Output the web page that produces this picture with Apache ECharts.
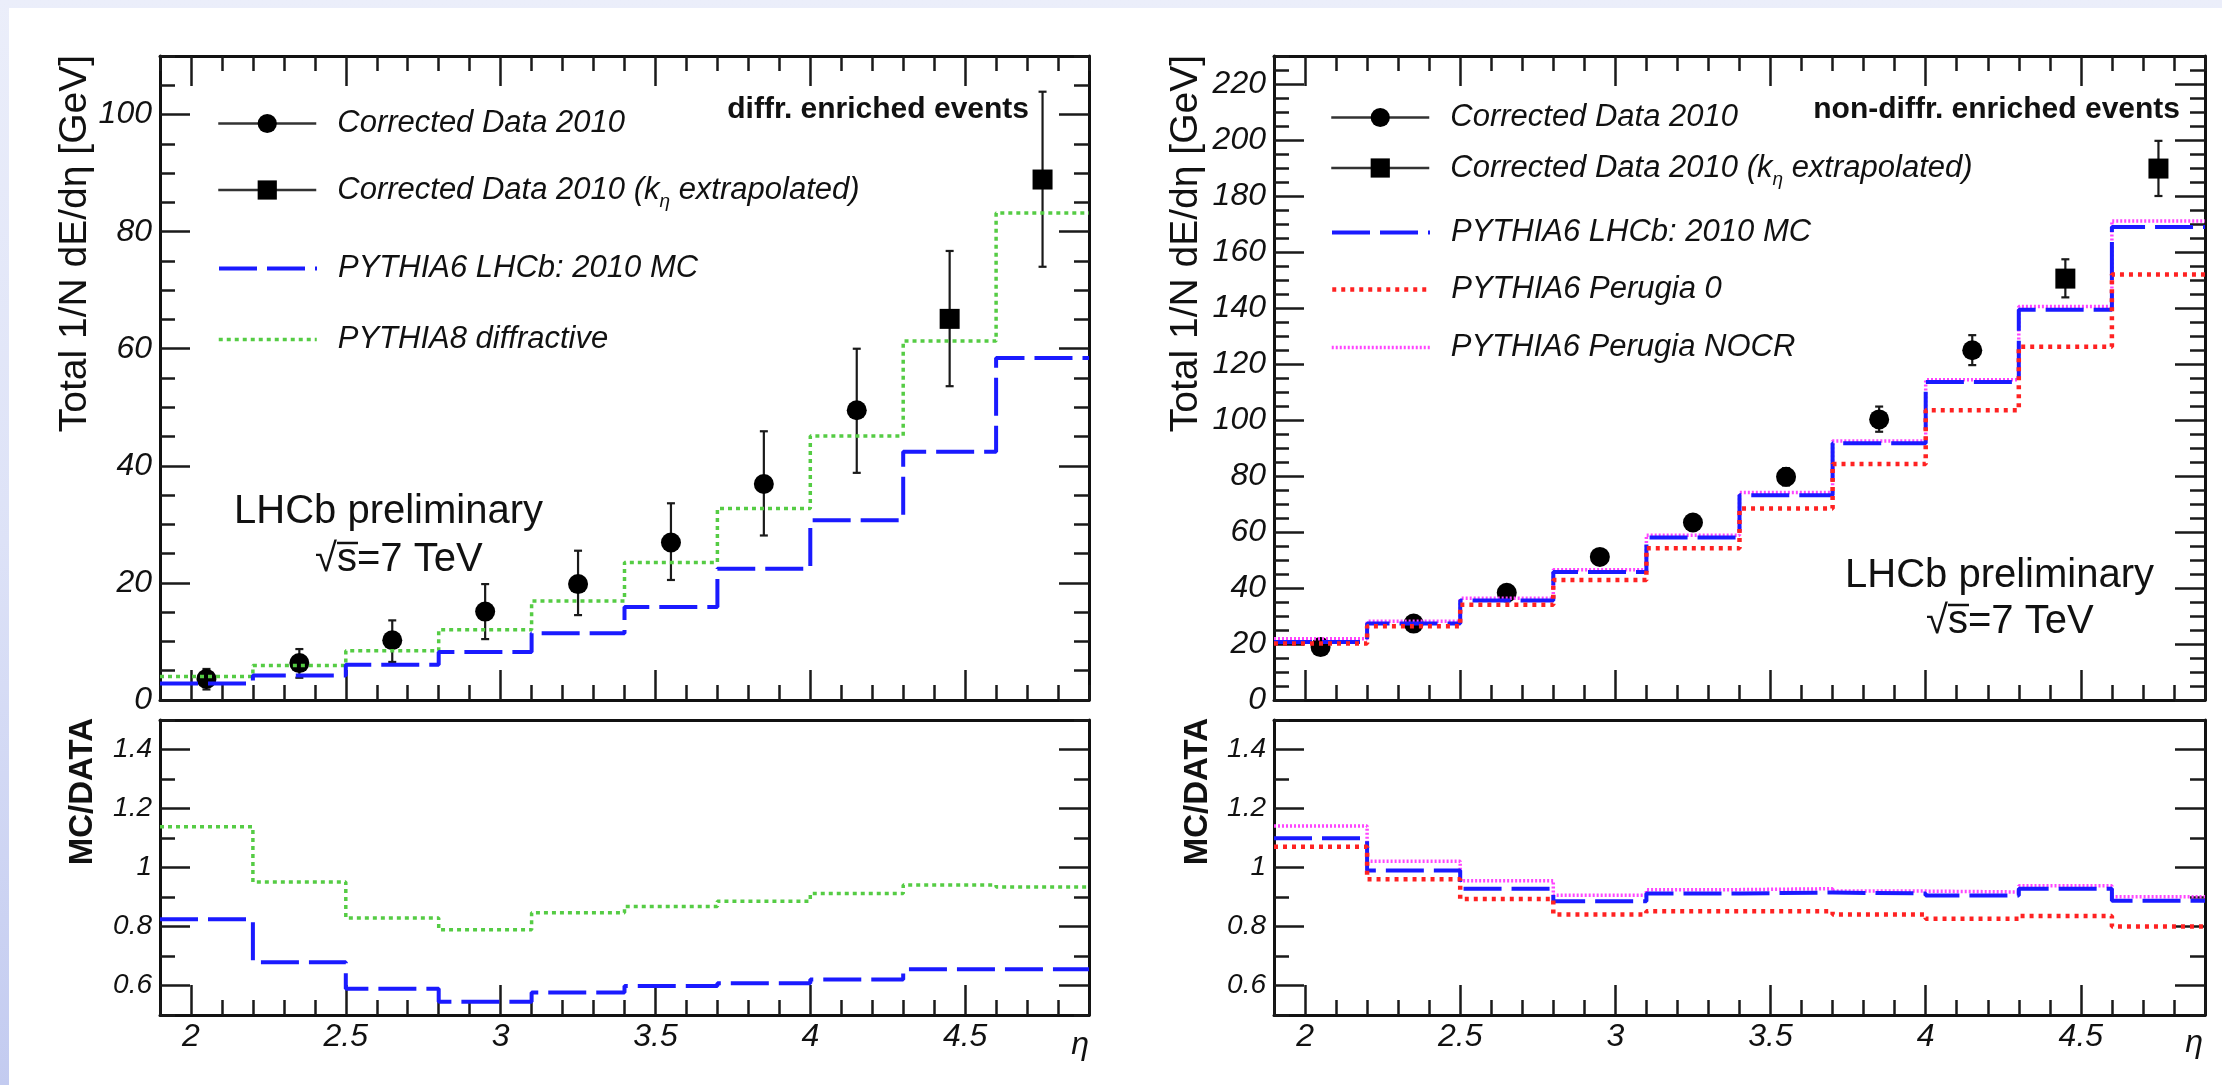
<!DOCTYPE html>
<html><head><meta charset="utf-8">
<script src="https://cdn.jsdelivr.net/npm/echarts@6/dist/echarts.min.js"></script>
<style>
html,body{margin:0;padding:0;width:2222px;height:1085px;overflow:hidden;}
body{background:linear-gradient(180deg,#ebeefa 0%,#dde2f7 50%,#c3cbf0 100%);}
#paper{position:absolute;left:9px;top:8px;right:0;bottom:0;background:#fff;}
#chart{position:absolute;left:0;top:0;width:2222px;height:1085px;}
</style></head><body><div id="paper"></div><div id="chart"></div>
<script>
const FONT = "'Liberation Sans', Arial, Helvetica, sans-serif";

// ---------------- data ----------------
const binEdges = [1.9, 2.2, 2.5, 2.8, 3.1, 3.4, 3.7, 4.0, 4.3, 4.6, 4.9];
const etaCentres = [2.05, 2.35, 2.65, 2.95, 3.25, 3.55, 3.85, 4.15, 4.45, 4.75];
const extrapolated = [false, false, false, false, false, false, false, false, true, true];

// left: diffractive enriched events
const diffData     = [3.6, 6.3, 10.2, 15.1, 19.8, 26.9, 36.9, 49.5, 65.1, 88.9];
const diffErrLow   = [1.8, 3.8, 6.5, 10.4, 14.5, 20.5, 28.1, 38.8, 53.6, 74.0];
const diffErrHigh  = [5.3, 8.7, 13.6, 19.8, 25.5, 33.6, 45.9, 60.0, 76.7, 103.9];
const diffPythia6  = [2.8, 4.2, 6.0, 8.2, 11.4, 15.9, 22.4, 30.7, 42.4, 58.4];
const diffPythia8  = [4.0, 5.9, 8.4, 12.0, 16.9, 23.5, 32.7, 45.1, 61.3, 83.2];
const diffRatioPythia6 = [0.825, 0.679, 0.589, 0.545, 0.576, 0.598, 0.608, 0.620, 0.655, 0.655];
const diffRatioPythia8 = [1.138, 0.951, 0.829, 0.789, 0.847, 0.868, 0.886, 0.912, 0.941, 0.934];

// right: non-diffractive enriched events
const ndData      = [18.9, 27.3, 38.3, 51.1, 63.4, 79.7, 100.2, 124.9, 150.5, 189.8];
const ndErrLow    = [18.1, 26.1, 36.7, 49.0, 60.8, 76.6, 95.8, 119.6, 143.8, 180.0];
const ndErrHigh   = [19.7, 28.5, 39.9, 53.2, 66.0, 82.8, 104.8, 130.3, 157.4, 199.7];
const ndPythia6   = [20.7, 27.3, 35.5, 45.7, 58.0, 73.1, 91.7, 113.6, 139.4, 168.9];
const ndPerugia0  = [20.2, 26.3, 34.0, 42.9, 54.2, 68.4, 84.3, 103.5, 126.2, 152.0];
const ndNOCR      = [21.9, 28.1, 36.3, 46.5, 58.8, 74.1, 92.5, 114.4, 140.5, 171.1];
const ndRatioPythia6  = [1.099, 0.990, 0.928, 0.886, 0.912, 0.915, 0.912, 0.905, 0.928, 0.887];
const ndRatioPerugia0 = [1.070, 0.960, 0.893, 0.841, 0.852, 0.852, 0.841, 0.826, 0.836, 0.800];
const ndRatioNOCR     = [1.141, 1.021, 0.955, 0.906, 0.925, 0.928, 0.920, 0.917, 0.938, 0.901];

// ticks
const etaTicks   = [2, 2.5, 3, 3.5, 4, 4.5];
const diffTicks  = [0, 20, 40, 60, 80, 100];
const ndTicks    = [0, 20, 40, 60, 80, 100, 120, 140, 160, 180, 200, 220];
const ratioTicks = [0.6, 0.8, 1, 1.2, 1.4];

const NAME_DATA = 'Corrected Data 2010';
const NAME_EXTRAP = 'Corrected Data 2010 (kη extrapolated)';
const NAME_P6 = 'PYTHIA6 LHCb: 2010 MC';
const NAME_P8 = 'PYTHIA8 diffractive';
const NAME_PER0 = 'PYTHIA6 Perugia 0';
const NAME_NOCR = 'PYTHIA6 Perugia NOCR';

function steps(a, b, step) {
  const out = [];
  const n = Math.round((b - a) / step);
  for (let i = 0; i <= n; i++) out.push(Math.round((a + i * step) * 1000) / 1000);
  return out;
}
const etaMinor = steps(1.9, 4.9, 0.1);
const diffMinor = steps(0, 110, 5);
const ndMinor = steps(0, 230, 5);
const ratioMinor = steps(0.5, 1.5, 0.1);

// ---------------- style ----------------
const BLUE = '#1a1aff', GREEN = '#55cc44', RED = '#ff2222', MAGENTA = '#ff44ff';
const DASH_BLUE = [38, 10], DOT_GREEN = [4, 4], DOT_RED = [4, 5], DOT_MAG = [2, 2];
const tickStyle = {color: '#1a1a1a', width: 2.5};
const frameStyle = {color: '#111', width: 3};

const grids = [
  {left: 160, top: 56, width: 929, height: 644},
  {left: 160, top: 720, width: 929, height: 295},
  {left: 1274, top: 56, width: 931, height: 644},
  {left: 1274, top: 720, width: 931, height: 295}
].map(g => Object.assign({outerBoundsMode: 'none', containLabel: false}, g));

function xAxesFor(g, withLabels, topTicks) {
  const c = {type: 'value', gridIndex: g, min: binEdges[0], max: binEdges[binEdges.length - 1],
    splitLine: {show: false}, minorTick: {show: false}};
  return [
    Object.assign({}, c, {position: 'bottom', axisLine: {show: true, onZero: false, lineStyle: frameStyle},
      axisTick: {show: true, inside: true, length: 30, lineStyle: tickStyle, customValues: etaTicks},
      axisLabel: {show: withLabels, customValues: etaTicks, margin: 6, fontFamily: FONT, fontStyle: 'italic', fontSize: 32, color: '#111'}}),
    Object.assign({}, c, {position: 'bottom', axisLine: {show: false, onZero: false},
      axisTick: {show: true, inside: true, length: 15, lineStyle: tickStyle, customValues: etaMinor},
      axisLabel: {show: false}}),
    Object.assign({}, c, {position: 'top', axisLine: {show: true, onZero: false, lineStyle: frameStyle},
      axisTick: {show: topTicks, inside: true, length: 30, lineStyle: tickStyle, customValues: etaTicks},
      axisLabel: {show: false}}),
    Object.assign({}, c, {position: 'top', axisLine: {show: false, onZero: false},
      axisTick: {show: topTicks, inside: true, length: 15, lineStyle: tickStyle, customValues: etaMinor},
      axisLabel: {show: false}})
  ];
}
function yAxesFor(g, min, max, majors, minors, labelSize) {
  const c = {type: 'value', gridIndex: g, min: min, max: max, splitLine: {show: false}, minorTick: {show: false}};
  return [
    Object.assign({}, c, {position: 'left', axisLine: {show: true, onZero: false, lineStyle: frameStyle},
      axisTick: {show: true, inside: true, length: 30, lineStyle: tickStyle, customValues: majors},
      axisLabel: {show: true, customValues: majors, margin: 8, fontFamily: FONT, fontStyle: 'italic', fontSize: labelSize, color: '#111'}}),
    Object.assign({}, c, {position: 'left', axisLine: {show: false, onZero: false},
      axisTick: {show: true, inside: true, length: 15, lineStyle: tickStyle, customValues: minors},
      axisLabel: {show: false}}),
    Object.assign({}, c, {position: 'right', axisLine: {show: true, onZero: false, lineStyle: frameStyle},
      axisTick: {show: true, inside: true, length: 30, lineStyle: tickStyle, customValues: majors},
      axisLabel: {show: false}}),
    Object.assign({}, c, {position: 'right', axisLine: {show: false, onZero: false},
      axisTick: {show: true, inside: true, length: 15, lineStyle: tickStyle, customValues: minors},
      axisLabel: {show: false}})
  ];
}

const xAxis = [].concat(xAxesFor(0, false, true), xAxesFor(1, true, false), xAxesFor(2, false, true), xAxesFor(3, true, false));
const yAxis = [].concat(
  yAxesFor(0, 0, 110, diffTicks, diffMinor, 32),
  yAxesFor(1, 0.5, 1.5, ratioTicks, ratioMinor, 28),
  yAxesFor(2, 0, 230, ndTicks, ndMinor, 32),
  yAxesFor(3, 0.5, 1.5, ratioTicks, ratioMinor, 28));

// ---------------- series ----------------
function histData(values) {
  return binEdges.map((e, i) => [e, values[Math.min(i, values.length - 1)]]);
}
function stepSeries(name, g, values, color, width, dash, z) {
  return {type: 'line', name: name, xAxisIndex: 4 * g, yAxisIndex: 4 * g, data: histData(values),
    step: 'end', symbol: 'none', showSymbol: false, silent: true, z: z,
    lineStyle: {color: color, width: width, type: dash, cap: 'butt'}, itemStyle: {color: color}};
}
function pointSeries(name, g, values, wantExtrap, symbol) {
  const pts = [];
  etaCentres.forEach((x, i) => { if (extrapolated[i] === wantExtrap) pts.push([x, values[i]]); });
  return {type: 'line', name: name, xAxisIndex: 4 * g, yAxisIndex: 4 * g, data: pts,
    symbol: symbol, symbolSize: 20, showSymbol: true, showAllSymbol: true, silent: true, z: 3,
    itemStyle: {color: '#000'}, lineStyle: {width: 0, opacity: 0}};
}
function errorSeries(g, lo, hi) {
  return {type: 'custom', xAxisIndex: 4 * g, yAxisIndex: 4 * g, silent: true, z: 2,
    data: etaCentres.map((x, i) => [x, lo[i], hi[i]]),
    encode: {x: 0, y: [1, 2]},
    renderItem: function (params, api) {
      const x = api.value(0);
      const a = api.coord([x, api.value(1)]);
      const b = api.coord([x, api.value(2)]);
      const st = {stroke: '#1a1a1a', lineWidth: 2.2};
      const cap = 4;
      return {type: 'group', children: [
        {type: 'line', shape: {x1: a[0], y1: a[1], x2: b[0], y2: b[1]}, style: st},
        {type: 'line', shape: {x1: a[0] - cap, y1: a[1], x2: a[0] + cap, y2: a[1]}, style: st},
        {type: 'line', shape: {x1: b[0] - cap, y1: b[1], x2: b[0] + cap, y2: b[1]}, style: st}
      ]};
    }};
}

const series = [
  // left top
  errorSeries(0, diffErrLow, diffErrHigh),
  pointSeries(NAME_DATA, 0, diffData, false, 'circle'),
  pointSeries(NAME_EXTRAP, 0, diffData, true, 'rect'),
  stepSeries(NAME_P8, 0, diffPythia8, GREEN, 3.5, DOT_GREEN, 4),
  stepSeries(NAME_P6, 0, diffPythia6, BLUE, 4, DASH_BLUE, 5),
  // left bottom
  stepSeries(NAME_P8, 1, diffRatioPythia8, GREEN, 3.5, DOT_GREEN, 4),
  stepSeries(NAME_P6, 1, diffRatioPythia6, BLUE, 4, DASH_BLUE, 5),
  // right top
  errorSeries(2, ndErrLow, ndErrHigh),
  pointSeries(NAME_DATA, 2, ndData, false, 'circle'),
  pointSeries(NAME_EXTRAP, 2, ndData, true, 'rect'),
  stepSeries(NAME_NOCR, 2, ndNOCR, MAGENTA, 3.5, DOT_MAG, 4),
  stepSeries(NAME_P6, 2, ndPythia6, BLUE, 4, DASH_BLUE, 5),
  stepSeries(NAME_PER0, 2, ndPerugia0, RED, 4.5, DOT_RED, 6),
  // right bottom
  stepSeries(NAME_NOCR, 3, ndRatioNOCR, MAGENTA, 3.5, DOT_MAG, 4),
  stepSeries(NAME_P6, 3, ndRatioPythia6, BLUE, 4, DASH_BLUE, 5),
  stepSeries(NAME_PER0, 3, ndRatioPerugia0, RED, 4.5, DOT_RED, 6)
];

// ---------------- legends ----------------
const richStyles = {
  g: {width: 16, lineHeight: 30},
  t: {fontFamily: FONT, fontStyle: 'italic', fontSize: 31, color: '#111', lineHeight: 30, verticalAlign: 'middle'},
  s: {fontFamily: FONT, fontStyle: 'italic', fontSize: 19, color: '#111', padding: [24, 0, 0, 0], verticalAlign: 'bottom'}
};
function legendFormatter(name) {
  if (name === NAME_EXTRAP) return '{g| }{t|Corrected Data 2010 (k}{s|η}{t| extrapolated)}';
  return '{g| }{t|' + name + '}';
}
const iconStyles = {};
iconStyles[NAME_DATA] = {lineStyle: {color: '#333', width: 2.5, opacity: 1, type: 'solid'}, itemStyle: {color: '#000', opacity: 1}};
iconStyles[NAME_EXTRAP] = {lineStyle: {color: '#333', width: 2.5, opacity: 1, type: 'solid'}, itemStyle: {color: '#000', opacity: 1}};
iconStyles[NAME_P6] = {lineStyle: {color: BLUE, width: 4, opacity: 1, type: DASH_BLUE}, itemStyle: {opacity: 0}};
iconStyles[NAME_P8] = {lineStyle: {color: GREEN, width: 3.5, opacity: 1, type: DOT_GREEN}, itemStyle: {opacity: 0}};
iconStyles[NAME_PER0] = {lineStyle: {color: RED, width: 4.5, opacity: 1, type: DOT_RED}, itemStyle: {opacity: 0}};
iconStyles[NAME_NOCR] = {lineStyle: {color: MAGENTA, width: 3.5, opacity: 1, type: DOT_MAG}, itemStyle: {opacity: 0}};

function legendRow(name, left, cy) {
  const h = name === NAME_EXTRAP ? 43 : 30;
  return {show: true, orient: 'horizontal', left: left, top: cy - h / 2, padding: 0, itemGap: 0,
    itemWidth: 98, itemHeight: 24, selectedMode: false,
    data: [Object.assign({name: name}, iconStyles[name])],
    formatter: legendFormatter,
    textStyle: {fontFamily: FONT, fontStyle: 'italic', fontSize: 31, color: '#111', rich: richStyles}};
}
const leftLegendNames = [NAME_DATA, NAME_EXTRAP, NAME_P6, NAME_P8];
const leftLegendRows = [123, 196, 268, 339];
const rightLegendNames = [NAME_DATA, NAME_EXTRAP, NAME_P6, NAME_PER0, NAME_NOCR];
const rightLegendRows = [117, 174, 232, 289, 347];
const legend = [].concat(
  leftLegendNames.map((n, i) => legendRow(n, 217, leftLegendRows[i])),
  rightLegendNames.map((n, i) => legendRow(n, 1330, rightLegendRows[i])));

// ---------------- texts ----------------
function txt(x, y, text, o) {
  return {type: 'text', x: x, y: y, rotation: o.rot || 0, silent: true, z: 10,
    style: {text: text, fontFamily: FONT, fontSize: o.size, fontStyle: o.style || 'normal',
      fontWeight: o.weight || 'normal', fill: '#111', align: o.align || 'left', verticalAlign: o.va || 'middle'}};
}
const graphic = [
  txt(75, 55, 'Total 1/N dE/dη [GeV]', {size: 39, rot: Math.PI / 2, align: 'right'}),
  txt(1186, 55, 'Total 1/N dE/dη [GeV]', {size: 39, rot: Math.PI / 2, align: 'right'}),
  txt(83, 718, 'MC/DATA', {size: 33, rot: Math.PI / 2, align: 'right', weight: 'bold'}),
  txt(1198, 718, 'MC/DATA', {size: 33, rot: Math.PI / 2, align: 'right', weight: 'bold'}),
  txt(1029, 110, 'diffr. enriched events', {size: 30, weight: 'bold', align: 'right'}),
  txt(2180, 110, 'non-diffr. enriched events', {size: 30, weight: 'bold', align: 'right'}),
  txt(234, 512, 'LHCb preliminary', {size: 40}),
  txt(315, 560, '√s=7 TeV', {size: 40}),
  {type: 'line', silent: true, z: 10, shape: {x1: 337, y1: 543, x2: 358, y2: 543}, style: {stroke: '#111', lineWidth: 2.5}},
  txt(1845, 576, 'LHCb preliminary', {size: 40}),
  txt(1926, 622, '√s=7 TeV', {size: 40}),
  {type: 'line', silent: true, z: 10, shape: {x1: 1948, y1: 605, x2: 1969, y2: 605}, style: {stroke: '#111', lineWidth: 2.5}},
  txt(1089, 1045, 'η', {size: 32, style: 'italic', align: 'right'}),
  txt(2203, 1043, 'η', {size: 32, style: 'italic', align: 'right'})
];

const chart = echarts.init(document.getElementById('chart'), null, {renderer: 'canvas', width: 2222, height: 1085});
chart.setOption({
  animation: false,
  backgroundColor: 'transparent',
  textStyle: {fontFamily: FONT},
  grid: grids,
  xAxis: xAxis,
  yAxis: yAxis,
  legend: legend,
  series: series,
  graphic: graphic
});
</script></body></html>
